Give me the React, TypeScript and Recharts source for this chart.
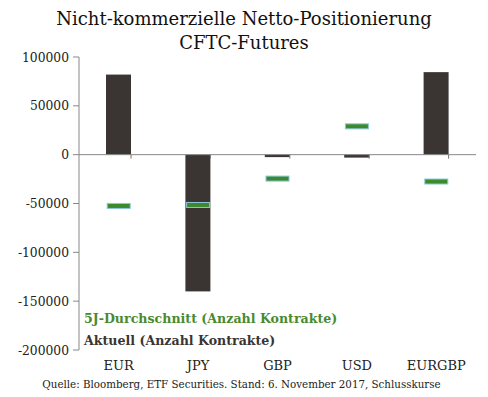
import React from 'react';
import { ComposedChart, Bar, Scatter, XAxis, YAxis, ReferenceLine } from 'recharts';

const categories = ['EUR', 'JPY', 'GBP', 'USD', 'EURGBP'];
const aktuell = [82000, -140000, -2500, -3000, 84500];
const durchschnitt5J = [-52500, -51500, -24500, 29000, -27500];
const yTicks = [100000, 50000, 0, -50000, -100000, -150000, -200000];

const data = categories.map((c, i) => ({ cat: c, aktuell: aktuell[i], avg: durchschnitt5J[i] }));

const FONT = "'DejaVu Serif', serif";
const BAR_COLOR = '#3a3532';
const GREEN = '#3c8a2c';
const GREEN_TEXT = '#4a8a2e';

const BarShape = (props: any) => {
  const { x, y, width, height, value, background } = props;
  const v = Array.isArray(value) ? value[1] - value[0] : value;
  const h = Math.abs(height);
  const top = height < 0 ? y + height : y;
  const zeroY = v >= 0 ? top + h : top;
  const bandRight = background ? background.x + background.width : x + width + 27;
  return (
    <g>
      <rect x={x} y={top} width={width} height={h} fill={BAR_COLOR} />
      <line x1={bandRight} x2={bandRight} y1={zeroY} y2={zeroY + 4} stroke="#777" strokeWidth={1} />
    </g>
  );
};

const MarkerShape = (props: any) => {
  const { cx, cy } = props;
  return (
    <rect x={cx - 11.5} y={cy - 2.5} width={23} height={5} fill={GREEN} stroke="#8cc8dc" strokeWidth={1} />
  );
};

const YTick = (props: any) => {
  const { x, y, payload } = props;
  return (
    <text x={x - 2} y={y} dy={4.5} textAnchor="end" style={{ fontFamily: FONT }} fontSize={12.3} fill="#222">
      {payload.value}
    </text>
  );
};

const XTick = (props: any) => {
  const { x, y, payload } = props;
  return (
    <text x={x} y={y} dy={12} textAnchor="middle" style={{ fontFamily: FONT }} fontSize={13} fill="#222">
      {payload.value}
    </text>
  );
};

export default function App() {
  return (
    <div style={{ position: 'absolute', left: 0, top: 0, width: 488, height: 397, background: '#fff', fontFamily: FONT }}>
      <div style={{ position: 'absolute', left: 0, top: 7, width: 488, textAlign: 'center', fontSize: 18, lineHeight: '24px', color: '#111' }}>
        Nicht-kommerzielle Netto-Positionierung
        <br />
        CFTC-Futures
      </div>
      <ComposedChart
        width={488}
        height={397}
        data={data}
        margin={{ top: 57, right: 12, bottom: 22, left: 0 }}
        barSize={25}
      >
        <XAxis dataKey="cat" axisLine={false} tickLine={false} tick={<XTick />} height={25} interval={0} />
        <YAxis
          domain={[-200000, 100000]}
          ticks={yTicks}
          width={79}
          axisLine={{ stroke: '#888' }}
          tickLine={{ stroke: '#888' }}
          tickSize={6}
          tick={<YTick />}
          interval={0}
        />
        <ReferenceLine y={0} stroke="#888" strokeWidth={1} />
        <Bar dataKey="aktuell" shape={<BarShape />} isAnimationActive={false} />
        <Scatter dataKey="avg" shape={<MarkerShape />} isAnimationActive={false} />
      </ComposedChart>
      <div style={{ position: 'absolute', left: 84, top: 308, fontSize: 12.6, fontWeight: 'bold', color: GREEN_TEXT, lineHeight: '22px' }}>
        5J-Durchschnitt (Anzahl Kontrakte)
        <br />
        <span style={{ color: BAR_COLOR }}>Aktuell (Anzahl Kontrakte)</span>
      </div>
      <div style={{ position: 'absolute', left: 0, top: 378, width: 483, textAlign: 'center', fontSize: 10.3, color: '#222' }}>
        Quelle: Bloomberg, ETF Securities. Stand: 6. November 2017, Schlusskurse
      </div>
    </div>
  );
}
